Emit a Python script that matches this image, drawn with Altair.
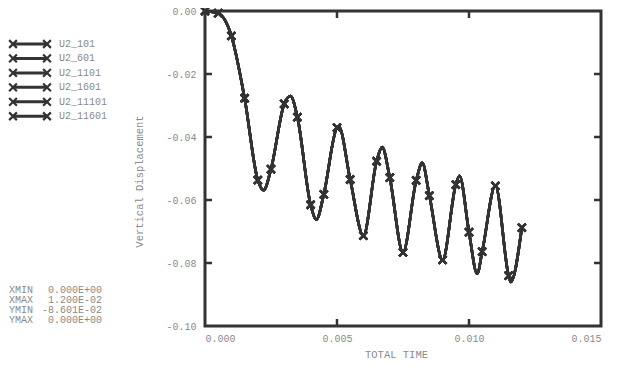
import altair as alt
import pandas as pd

# ---- data ----
series_names = ["U2_101", "U2_601", "U2_1101", "U2_1601", "U2_11101", "U2_11601"]

marker_time = [0.0000, 0.0005, 0.0010, 0.0015, 0.0020, 0.0025, 0.0030, 0.0035,
               0.0040, 0.0045, 0.0050, 0.0055, 0.0060, 0.0065, 0.0070, 0.0075,
               0.0080, 0.0085, 0.0090, 0.0095, 0.0100, 0.0105, 0.0110, 0.0115,
               0.0120]
marker_disp = [0.0, -0.0007, -0.0079, -0.0277, -0.0537, -0.0502, -0.0295, -0.0337,
               -0.0615, -0.0582, -0.0370, -0.0535, -0.0713, -0.0477, -0.0529, -0.0766,
               -0.0538, -0.0586, -0.0790, -0.0551, -0.0702, -0.0764, -0.0555, -0.0840,
               -0.0688]

extreme_time = [0.00222, 0.00324, 0.00422, 0.00507, 0.00671, 0.00823, 0.00964,
                0.01031, 0.01158]
extreme_disp = [-0.0569, -0.0270, -0.0662, -0.0367, -0.0432, -0.0482, -0.0523,
                -0.0834, -0.08601]

x_tick_values = [0.0, 0.005, 0.010, 0.015]
y_tick_values = [0.0, -0.02, -0.04, -0.06, -0.08, -0.10]

info_labels = ["XMIN", "XMAX", "YMIN", "YMAX"]

# ---- tables ----
curve_rows = []
marker_rows = []
all_pts = sorted(list(zip(marker_time, marker_disp)) + list(zip(extreme_time, extreme_disp)))
for s in series_names:
    for t, d in all_pts:
        curve_rows.append({"series": s, "time": t, "disp": d})
    for t, d in zip(marker_time, marker_disp):
        marker_rows.append({"series": s, "time": t, "disp": d})
curve_df = pd.DataFrame(curve_rows)
marker_df = pd.DataFrame(marker_rows)

all_t = [t for t, _ in all_pts]
all_d = [d for _, d in all_pts]
info_values = ["%.3E" % min(all_t), "%.3E" % max(all_t), "%.3E" % min(all_d), "%.3E" % max(all_d)]
info_df = pd.DataFrame({"label": info_labels, "value": info_values, "idx": list(range(4))})
legend_df = pd.DataFrame({"series": series_names, "idx": list(range(len(series_names)))})
xt_df = pd.DataFrame({"tick": x_tick_values[1:-1]})
yt_df = pd.DataFrame({"tick": y_tick_values[1:-1]})

FONT = "Liberation Mono"
GREY = "#8a8a8a"
DARK = "#333333"
XSHAPE = "M-1,-1L1,1M-1,1L1,-1"
W, H = 396, 315

xscale = alt.Scale(domain=[0, 0.015], nice=False, zero=False)
yscale = alt.Scale(domain=[-0.10, 0.0], nice=False, zero=False)

x_enc = alt.X("time:Q", scale=xscale, axis=alt.Axis(
    values=x_tick_values, format=".3f", title="TOTAL TIME", grid=False, ticks=False,
    domain=False, labelFont=FONT, labelFontSize=10, labelColor=GREY, labelPadding=7,
    titleFont=FONT, titleFontSize=10.5, titleFontWeight="normal",
    titleColor=GREY, titleX=191, titleY=28, titleAlign="center", titleBaseline="middle"))
y_enc = alt.Y("disp:Q", scale=yscale, axis=alt.Axis(
    values=y_tick_values, format=".2f", labelExpr="replace(datum.label, '\u2212', '-')",
    title="Vertical Displacement", grid=False, ticks=False, domain=False,
    labelFont=FONT, labelFontSize=10, labelColor=GREY, labelPadding=9,
    titleFont=FONT, titleFontSize=10.5, titleFontWeight="normal", titleColor=GREY,
    titleAngle=270, titleX=-66, titleY=170, titleAlign="center", titleBaseline="middle"))

line = alt.Chart(curve_df).mark_line(interpolate="monotone", color=DARK, strokeWidth=2.6).encode(
    x=x_enc, y=y_enc, detail="series:N")

points = alt.Chart(marker_df).mark_point(shape=XSHAPE, filled=False, stroke=DARK,
                                          strokeWidth=2.2, size=60, opacity=1).encode(
    x=alt.X("time:Q", scale=xscale), y=alt.Y("disp:Q", scale=yscale), detail="series:N")

xt_bottom = alt.Chart(xt_df).mark_rule(color=DARK, strokeWidth=2.5).encode(
    x=alt.X("tick:Q", scale=xscale), y=alt.value(H), y2=alt.value(H - 7))
xt_top = alt.Chart(xt_df).mark_rule(color=DARK, strokeWidth=2.5).encode(
    x=alt.X("tick:Q", scale=xscale), y=alt.value(0), y2=alt.value(7))
yt_left = alt.Chart(yt_df).mark_rule(color=DARK, strokeWidth=2.5).encode(
    y=alt.Y("tick:Q", scale=yscale), x=alt.value(0), x2=alt.value(7))
yt_right = alt.Chart(yt_df).mark_rule(color=DARK, strokeWidth=2.5).encode(
    y=alt.Y("tick:Q", scale=yscale), x=alt.value(W), x2=alt.value(W - 7))

leg = alt.Chart(legend_df).transform_calculate(py="33 + datum.idx * 14.45")
ly = alt.Y("py:Q", scale=None, axis=None)
leg_line = leg.mark_rule(color=DARK, strokeWidth=3).encode(
    x=alt.value(-192), x2=alt.value(-158), y=ly)
leg_p1 = leg.mark_point(shape=XSHAPE, filled=False, stroke=DARK, strokeWidth=2.2,
                        size=60, opacity=1).encode(x=alt.value(-192), y=ly)
leg_p2 = leg.mark_point(shape=XSHAPE, filled=False, stroke=DARK, strokeWidth=2.2,
                        size=60, opacity=1).encode(x=alt.value(-158), y=ly)
leg_text = leg.mark_text(align="left", baseline="middle", font=FONT, fontSize=10,
                         color=GREY).encode(x=alt.value(-146), y=ly, text="series:N")

info = alt.Chart(info_df).transform_calculate(py="279 + datum.idx * 10")
iy = alt.Y("py:Q", scale=None, axis=None)
info_lab = info.mark_text(align="left", baseline="middle", font=FONT, fontSize=10,
                          color=GREY).encode(x=alt.value(-196), y=iy, text="label:N")
info_val = info.mark_text(align="right", baseline="middle", font=FONT, fontSize=10,
                          color=GREY).encode(x=alt.value(-103), y=iy, text="value:N")

chart = alt.layer(line, points, xt_bottom, xt_top, yt_left, yt_right,
                  leg_line, leg_p1, leg_p2, leg_text, info_lab, info_val).properties(
    width=W, height=H,
    autosize=alt.AutoSizeParams(type="none"),
    padding={"left": 197, "top": 3, "right": 15, "bottom": 34},
    background="white",
).configure_view(stroke=DARK, strokeWidth=3)

chart.save("out.html", embed_options={"renderer": "svg", "actions": False})
